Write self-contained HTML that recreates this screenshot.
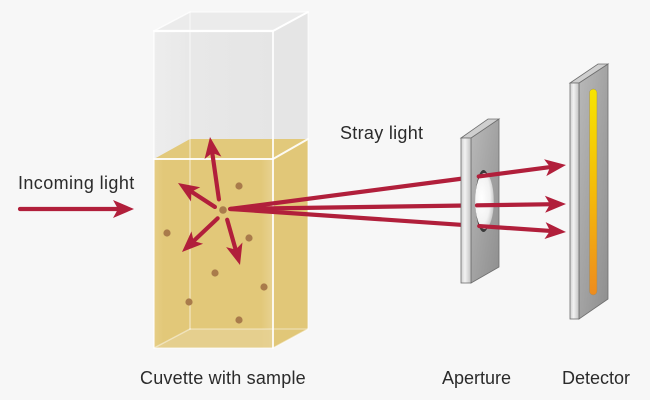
<!DOCTYPE html>
<html>
<head>
<meta charset="utf-8">
<style>
  html,body{margin:0;padding:0;background:#f7f7f7;}
  svg{display:block;}
  text{font-family:"Liberation Sans",Arial,sans-serif;font-size:18px;fill:#2b2b2b;}
</style>
</head>
<body>
<svg width="650" height="400" viewBox="0 0 650 400" xmlns="http://www.w3.org/2000/svg">
  <defs>
    <linearGradient id="glassFront" x1="0" y1="0" x2="1" y2="0">
      <stop offset="0" stop-color="#ededed"/>
      <stop offset="0.3" stop-color="#e8e8e8"/>
      <stop offset="1" stop-color="#e5e5e5"/>
    </linearGradient>
    <linearGradient id="liqFront" x1="0" y1="0" x2="1" y2="0">
      <stop offset="0" stop-color="#e6ce86"/>
      <stop offset="0.08" stop-color="#e2c879"/>
      <stop offset="0.9" stop-color="#e2c879"/>
      <stop offset="1" stop-color="#e8d291"/>
    </linearGradient>
    <linearGradient id="apSide" x1="0" y1="0" x2="1" y2="1">
      <stop offset="0" stop-color="#b9b9b9"/>
      <stop offset="0.5" stop-color="#a3a3a3"/>
      <stop offset="1" stop-color="#8e8e8e"/>
    </linearGradient>
    <linearGradient id="apFront" x1="0" y1="0" x2="1" y2="0">
      <stop offset="0" stop-color="#cfcfcf"/>
      <stop offset="0.4" stop-color="#f2f2f2"/>
      <stop offset="1" stop-color="#c2c2c2"/>
    </linearGradient>
    <radialGradient id="hole" cx="0.35" cy="0.45" r="0.75">
      <stop offset="0" stop-color="#ffffff"/>
      <stop offset="0.6" stop-color="#f2f2f2"/>
      <stop offset="1" stop-color="#b5b5b5"/>
    </radialGradient>
    <linearGradient id="detBar" x1="0" y1="0" x2="0" y2="1">
      <stop offset="0" stop-color="#f6e400"/>
      <stop offset="0.5" stop-color="#f4bb0a"/>
      <stop offset="1" stop-color="#ee8c1e"/>
    </linearGradient>
  </defs>

  <!-- ===== Cuvette ===== -->
  <polygon points="154,31 190,12 308,12 273,31" fill="#ebebeb"/>
  <polygon points="273,31 308,12 308,139 273,159" fill="#e5e5e5"/>
  <rect x="154" y="31" width="119" height="128" fill="url(#glassFront)"/>
  <polygon points="154,159 190,139 308,139 273,159" fill="#e2c97b"/>
  <polygon points="273,159 308,139 308,329 273,348" fill="#e1c778"/>
  <rect x="154" y="159" width="119" height="189" fill="url(#liqFront)"/>
  <polygon points="154,348 190,329 273,329 273,348" fill="#e6d193" opacity="0.8"/>
  <g fill="none" stroke-linecap="round">
    <line x1="190" y1="12" x2="190" y2="329" stroke="#ffffff" stroke-opacity="0.45" stroke-width="1.5"/>
    <line x1="190" y1="329" x2="308" y2="329" stroke="#ffffff" stroke-opacity="0.35" stroke-width="1.5"/>
    <line x1="154" y1="348" x2="190" y2="329" stroke="#ffffff" stroke-opacity="0.45" stroke-width="1.5"/>
    <line x1="154" y1="31" x2="190" y2="12" stroke="#ffffff" stroke-opacity="0.8" stroke-width="1.5"/>
    <line x1="190" y1="12" x2="308" y2="12" stroke="#ffffff" stroke-opacity="0.6" stroke-width="1.5"/>
    <line x1="273" y1="31" x2="308" y2="12" stroke="#ffffff" stroke-width="2"/>
    <line x1="308" y1="12" x2="308" y2="329" stroke="#ffffff" stroke-opacity="0.5" stroke-width="1.5"/>
    <line x1="273" y1="348" x2="308" y2="329" stroke="#ffffff" stroke-opacity="0.5" stroke-width="1.5"/>
    <line x1="154" y1="31" x2="273" y2="31" stroke="#ffffff" stroke-width="2.2"/>
    <line x1="154" y1="31" x2="154" y2="348" stroke="#ffffff" stroke-opacity="0.7" stroke-width="1.5"/>
    <line x1="273" y1="31" x2="273" y2="348" stroke="#ffffff" stroke-opacity="0.85" stroke-width="2"/>
    <line x1="154" y1="159" x2="273" y2="159" stroke="#ffffff" stroke-opacity="0.9" stroke-width="2"/>
    <line x1="273" y1="159" x2="308" y2="139" stroke="#ffffff" stroke-opacity="0.9" stroke-width="2"/>
    <line x1="154" y1="348" x2="273" y2="348" stroke="#ffffff" stroke-opacity="0.5" stroke-width="1.5"/>
  </g>

  <g fill="#a97b4b">
    <circle cx="239" cy="186" r="3.6"/>
    <circle cx="167" cy="233" r="3.6"/>
    <circle cx="249" cy="238" r="3.6"/>
    <circle cx="215" cy="273" r="3.6"/>
    <circle cx="264" cy="287" r="3.6"/>
    <circle cx="189" cy="302" r="3.6"/>
    <circle cx="239" cy="320" r="3.6"/>
    <circle cx="223" cy="210" r="3.8"/>
  </g>

  <!-- rays first segments -->
  <g stroke="#b11f3b" stroke-width="4.2" stroke-linecap="round" fill="none">
    <g transform="translate(566,165) rotate(-7.46)"><line x1="-338" y1="0" x2="-100" y2="0"/></g>
    <g transform="translate(566,204) rotate(-0.85)"><line x1="-336" y1="0" x2="-100" y2="0"/></g>
    <g transform="translate(566,232) rotate(3.92)"><line x1="-336" y1="0" x2="-100" y2="0"/></g>
  </g>

  <!-- Aperture -->
  <polygon points="471,138 499,119 499,267 471,283" fill="url(#apSide)" stroke="#6f6f6f" stroke-width="0.8"/>
  <polygon points="461,138 488,119 499,119 471,138" fill="#cfcfcf" stroke="#6f6f6f" stroke-width="0.8"/>
  <rect x="461" y="138" width="10" height="145" fill="url(#apFront)" stroke="#6f6f6f" stroke-width="0.8"/>
  <ellipse cx="483.5" cy="201" rx="8" ry="31" fill="#3a3a3a"/>
  <ellipse cx="484.5" cy="201" rx="9.3" ry="28" fill="url(#hole)"/>

  <!-- Detector -->
  <polygon points="579,83 608,64 608,299 579,319" fill="url(#apSide)" stroke="#6f6f6f" stroke-width="0.8"/>
  <polygon points="570,83 598,64 608,64 579,83" fill="#cfcfcf" stroke="#6f6f6f" stroke-width="0.8"/>
  <rect x="570" y="83" width="9" height="236" fill="url(#apFront)" stroke="#6f6f6f" stroke-width="0.8"/>
  <rect x="589.5" y="89" width="7.5" height="206" rx="3.75" fill="url(#detBar)" stroke="#9a8a6a" stroke-width="0.5"/>

  <!-- rays second segments + heads -->
  <g stroke="#b11f3b" stroke-width="4.2" fill="none" stroke-linecap="round">
    <g transform="translate(566,165) rotate(-7.46)"><line x1="-88" y1="0" x2="-12" y2="0"/></g>
    <g transform="translate(566,204) rotate(-0.85)"><line x1="-89" y1="0" x2="-12" y2="0"/></g>
    <g transform="translate(566,232) rotate(3.92)"><line x1="-87" y1="0" x2="-12" y2="0"/></g>
  </g>
  <g fill="#b11f3b">
    <g transform="translate(566,165) rotate(-7.46)"><path d="M0,0 L-21,-8.5 L-16,0 L-21,8.5 Z"/></g>
    <g transform="translate(566,204) rotate(-0.85)"><path d="M0,0 L-21,-8.5 L-16,0 L-21,8.5 Z"/></g>
    <g transform="translate(566,232) rotate(3.92)"><path d="M0,0 L-21,-8.5 L-16,0 L-21,8.5 Z"/></g>
  </g>

  <!-- Incoming arrow -->
  <g transform="translate(134,209)">
    <line x1="-114" y1="0" x2="-12" y2="0" stroke="#b11f3b" stroke-width="4.2" stroke-linecap="round"/>
    <path d="M0,0 L-21,-9 L-16,0 L-21,9 Z" fill="#b11f3b"/>
  </g>

  <!-- Scatter arrows -->
  <g>
    <g transform="translate(210,137) rotate(-98.13)">
      <line x1="-63" y1="0" x2="-12" y2="0" stroke="#b11f3b" stroke-width="4.2" stroke-linecap="round"/>
      <path d="M0,0 L-21,-8.5 L-16,0 L-21,8.5 Z" fill="#b11f3b"/>
    </g>
    <g transform="translate(178,183) rotate(-147.03)">
      <line x1="-44" y1="0" x2="-12" y2="0" stroke="#b11f3b" stroke-width="4.2" stroke-linecap="round"/>
      <path d="M0,0 L-21,-8.5 L-16,0 L-21,8.5 Z" fill="#b11f3b"/>
    </g>
    <g transform="translate(182,252) rotate(136.64)">
      <line x1="-49" y1="0" x2="-12" y2="0" stroke="#b11f3b" stroke-width="4.2" stroke-linecap="round"/>
      <path d="M0,0 L-21,-8.5 L-16,0 L-21,8.5 Z" fill="#b11f3b"/>
    </g>
    <g transform="translate(240,265) rotate(74.2)">
      <line x1="-47" y1="0" x2="-12" y2="0" stroke="#b11f3b" stroke-width="4.2" stroke-linecap="round"/>
      <path d="M0,0 L-21,-8.5 L-16,0 L-21,8.5 Z" fill="#b11f3b"/>
    </g>
  </g>

  <!-- Labels -->
  <text x="18" y="189" style="letter-spacing:0.4px">Incoming light</text>
  <text x="340" y="139" style="letter-spacing:0.3px">Stray light</text>
  <text x="140" y="384" style="letter-spacing:0.2px">Cuvette with sample</text>
  <text x="442" y="384">Aperture</text>
  <text x="562" y="384">Detector</text>
</svg>
</body>
</html>
